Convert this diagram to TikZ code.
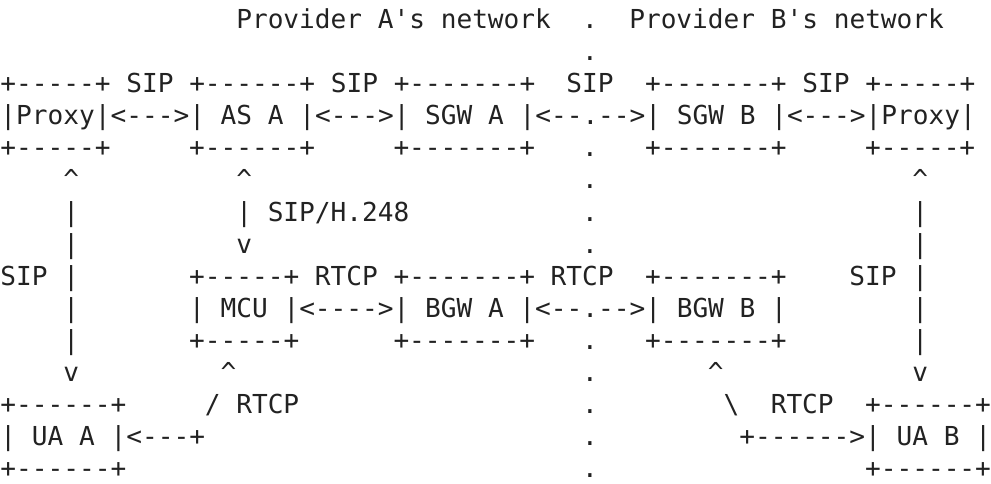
\documentclass[tikz,border=0pt]{standalone}
\usepackage{fontspec}
\setmonofont{DejaVu Sans Mono}
\definecolor{ink}{RGB}{34,34,34}
\newcommand{\cw}{15.72}
\newcommand{\lh}{32.0}
\newcommand{\T}[4]{\node[asc] (#1) at ({0.5+\cw*#2},{-(29+\lh*(#3-1))}) {#4};}
\tikzset{asc/.style={anchor=base west,inner sep=0pt,outer sep=0pt,text=ink,
  font=\ttfamily\fontsize{26.13}{32}\selectfont}}
\begin{document}
\begin{tikzpicture}[x=1pt,y=1pt]
\useasboundingbox (0,0) rectangle (991,-484);
% line 1
\T{provA}{15}{1}{Provider A's network}
\T{d1}{37}{1}{.}
\T{provB}{40}{1}{Provider B's network}
% line 2
\T{d2}{37}{2}{.}
% line 3
\T{top3a}{0}{3}{+-----+ SIP +------+ SIP +-------+}
\T{sip3}{36}{3}{SIP}
\T{top3b}{41}{3}{+-------+ SIP +-----+}
% line 4
\T{row4}{0}{4}{|Proxy|<--->| AS A |<--->| SGW A |<--.-->| SGW B |<--->|Proxy|}
% line 5
\T{b5a}{0}{5}{+-----+}
\T{b5b}{12}{5}{+------+}
\T{b5c}{25}{5}{+-------+}
\T{d5}{37}{5}{.}
\T{b5d}{41}{5}{+-------+}
\T{b5e}{55}{5}{+-----+}
% line 6
\T{u6a}{4}{6}{\textasciicircum}
\T{u6b}{15}{6}{\textasciicircum}
\T{d6}{37}{6}{.}
\T{u6c}{58}{6}{\textasciicircum}
% line 7
\T{v7a}{4}{7}{|}
\T{v7b}{15}{7}{| SIP/H.248}
\T{d7}{37}{7}{.}
\T{v7c}{58}{7}{|}
% line 8
\T{v8a}{4}{8}{|}
\T{v8b}{15}{8}{v}
\T{d8}{37}{8}{.}
\T{v8c}{58}{8}{|}
% line 9
\T{s9a}{0}{9}{SIP |}
\T{t9a}{12}{9}{+-----+ RTCP +-------+}
\T{r9}{35}{9}{RTCP}
\T{t9b}{41}{9}{+-------+}
\T{s9b}{54}{9}{SIP |}
% line 10
\T{v10a}{4}{10}{|}
\T{row10}{12}{10}{| MCU |<---->| BGW A |<--.-->| BGW B |}
\T{v10b}{58}{10}{|}
% line 11
\T{v11a}{4}{11}{|}
\T{b11a}{12}{11}{+-----+}
\T{b11b}{25}{11}{+-------+}
\T{d11}{37}{11}{.}
\T{b11c}{41}{11}{+-------+}
\T{v11b}{58}{11}{|}
% line 12
\T{a12a}{4}{12}{v}
\T{a12b}{14}{12}{\textasciicircum}
\T{d12}{37}{12}{.}
\T{a12c}{45}{12}{\textasciicircum}
\T{a12d}{58}{12}{v}
% line 13
\T{b13a}{0}{13}{+------+}
\T{sl13}{13}{13}{/}
\T{r13a}{15}{13}{RTCP}
\T{d13}{37}{13}{.}
\T{bs13}{46}{13}{\textbackslash}
\T{r13b}{49}{13}{RTCP}
\T{b13b}{55}{13}{+------+}
% line 14
\T{uaA}{0}{14}{| UA A |<---+}
\T{d14}{37}{14}{.}
\T{uaB}{47}{14}{+------>| UA B |}
% line 15
\T{b15a}{0}{15}{+------+}
\T{d15}{37}{15}{.}
\T{b15b}{55}{15}{+------+}
\end{tikzpicture}
\end{document}
